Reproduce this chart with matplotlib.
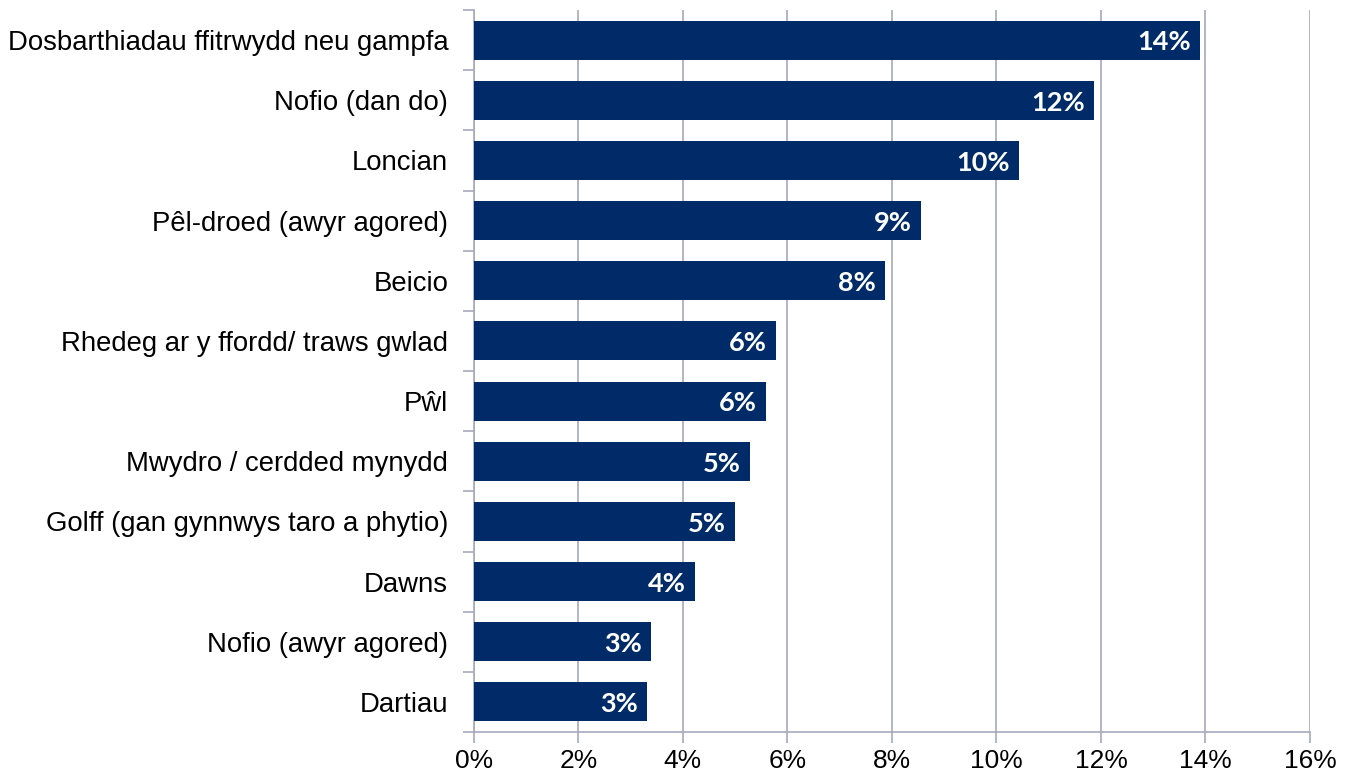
import matplotlib.pyplot as plt
import numpy as np
from matplotlib.ticker import FixedLocator

# ── Data ─────────────────────────────────────────────────────────────────────
activities = [
    "Dosbarthiadau ffitrwydd neu gampfa",
    "Nofio (dan do)",
    "Loncian",
    "Pêl-droed (awyr agored)",
    "Beicio",
    "Rhedeg ar y ffordd/ traws gwlad",
    "Pŵl",
    "Mwydro / cerdded mynydd",
    "Golff (gan gynnwys taro a phytio)",
    "Dawns",
    "Nofio (awyr agored)",
    "Dartiau",
]
share = [13.9, 11.87, 10.43, 8.55, 7.87, 5.78, 5.59, 5.28, 5.0, 4.23, 3.39, 3.31]
bar_labels = ["14%", "12%", "10%", "9%", "8%", "6%", "6%", "5%", "5%", "4%", "3%", "3%"]
xticks = [0, 2, 4, 6, 8, 10, 12, 14, 16]

navy = "#002B69"
grid = "#A7A9BE"

# ── Plot ──────────────────────────────────────────────────────────────────────
fig = plt.figure(figsize=(13.54, 7.76), dpi=100)
ax = fig.add_axes([0.350, 0.0567, 0.6175, 0.9304])

y = np.arange(len(activities))
ax.barh(y, share, height=0.65, color=navy, zorder=3)

for yi, v, lab in zip(y, share, bar_labels):
    ax.text(v - 0.18, yi + 0.04, lab, ha="right", va="center", color="white",
            fontsize=19.5, fontweight="bold", family="Lato", zorder=4)

ax.set_xlim(0, 16)
ax.set_ylim(len(activities) - 0.5, -0.5)
ax.set_xticks(xticks)
ax.set_xticklabels([f"{t}%" for t in xticks], family="Liberation Sans", fontsize=19)
ax.set_yticks(y)
ax.set_yticklabels(activities, family="Liberation Sans", fontsize=19.8)
ax.yaxis.set_minor_locator(FixedLocator(np.arange(-0.5, len(activities), 1)))

ax.tick_params(axis="y", which="major", length=0, pad=18.5)
ax.tick_params(axis="y", which="minor", length=8, color=grid, width=1.2)
ax.tick_params(axis="x", length=8, color=grid, width=1.2, pad=4.5)

ax.grid(axis="x", color=grid, linewidth=1.2, zorder=0)
for s in ["top", "right"]:
    ax.spines[s].set_visible(False)
for s in ["left", "bottom"]:
    ax.spines[s].set_color(grid)
    ax.spines[s].set_linewidth(1.2)

fig.savefig("out.png", dpi=100)
